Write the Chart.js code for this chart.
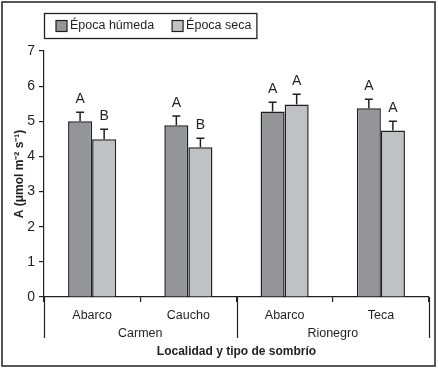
<!DOCTYPE html>
<html>
<head>
<meta charset="utf-8">
<script src="https://cdn.jsdelivr.net/npm/chart.js@4"></script>
<style>
html, body { margin: 0; padding: 0; background: #fff; }
#wrap { width: 438px; height: 369px; }
</style>
</head>
<body>
<div id="wrap"><canvas id="grafico"></canvas></div>
<script>
// datos
const sitios = ['Abarco', 'Caucho', 'Abarco', 'Teca'];
const localidades = ['Carmen', 'Rionegro'];
const humeda = [5.0, 4.89, 5.28, 5.37];
const humedaErr = [0.26, 0.26, 0.26, 0.26];
const seca = [4.49, 4.26, 5.48, 4.74];
const secaErr = [0.28, 0.26, 0.29, 0.26];
const letrasHumeda = ['A', 'A', 'A', 'A'];
const letrasSeca = ['B', 'B', 'A', 'A'];
const yMax = 7;

const negro = '#231f20';
const fuente = "'Liberation Sans', Arial, sans-serif";
const tam = 12.5;
Chart.defaults.font.family = fuente;
Chart.defaults.color = negro;

var extras = {
  id: 'extras',
  afterDatasetsDraw: function(chart) {
    const ctx = chart.ctx;
    const y = chart.scales.y;
    ctx.save();
    ctx.strokeStyle = negro;
    ctx.lineWidth = 1.5;
    ctx.fillStyle = negro;
    ctx.font = '14px ' + fuente;
    ctx.textAlign = 'center';
    ctx.textBaseline = 'alphabetic';
    chart.data.datasets.forEach(function(ds, i) {
      const meta = chart.getDatasetMeta(i);
      meta.data.forEach(function(bar, j) {
        const top = y.getPixelForValue(ds.data[j] + ds.errores[j]);
        ctx.beginPath();
        ctx.moveTo(bar.x, bar.y);
        ctx.lineTo(bar.x, top);
        ctx.moveTo(bar.x - 4, top);
        ctx.lineTo(bar.x + 4, top);
        ctx.stroke();
        ctx.fillText(ds.letras[j], bar.x, top - 9);
      });
    });
    ctx.restore();
  },
  afterDraw: function(chart) {
    const ctx = chart.ctx;
    const x = chart.scales.x;
    const area = chart.chartArea;
    ctx.save();
    ctx.strokeStyle = negro;
    ctx.fillStyle = negro;

    // separadores de localidad
    ctx.lineWidth = 1.2;
    const cortes = [x.left, (x.getPixelForValue(1) + x.getPixelForValue(2)) / 2, x.right];
    cortes.forEach(function(cx) {
      ctx.beginPath();
      ctx.moveTo(Math.round(cx) + 0.5, area.bottom);
      ctx.lineTo(Math.round(cx) + 0.5, area.bottom + 41);
      ctx.stroke();
    });
    ctx.font = tam + 'px ' + fuente;
    ctx.textAlign = 'center';
    ctx.textBaseline = 'middle';
    localidades.forEach(function(loc, k) {
      const cx = (x.getPixelForValue(2 * k) + x.getPixelForValue(2 * k + 1)) / 2;
      ctx.fillText(loc, cx, area.bottom + 37);
    });

    // leyenda con marco
    ctx.textAlign = 'left';
    let lx = area.left + 12;
    const ly = 26;
    chart.data.datasets.forEach(function(ds) {
      ctx.fillStyle = ds.backgroundColor;
      ctx.fillRect(lx, ly - 5.5, 11, 11);
      ctx.lineWidth = 1.2;
      ctx.strokeRect(lx, ly - 5.5, 11, 11);
      ctx.fillStyle = negro;
      ctx.fillText(ds.label, lx + 14, ly);
      lx += 14 + ctx.measureText(ds.label).width + 18;
    });
    ctx.lineWidth = 1.3;
    ctx.strokeRect(area.left + 0.5, 13.5, lx - 18 + 5 - area.left, 25);

    // marco exterior
    ctx.lineWidth = 1.5;
    ctx.strokeRect(2, 2, 433, 364);
    ctx.restore();
  }
};

new Chart(document.getElementById('grafico'), {
  type: 'bar',
  data: {
    labels: sitios,
    datasets: [{
      label: 'Época húmeda',
      data: humeda,
      errores: humedaErr,
      letras: letrasHumeda,
      backgroundColor: '#939598',
      borderColor: negro,
      borderWidth: 1.5
    }, {
      label: 'Época seca',
      data: seca,
      errores: secaErr,
      letras: letrasSeca,
      backgroundColor: '#c0c1c4',
      borderColor: negro,
      borderWidth: 1.5
    }]
  },
  options: {
    responsive: true,
    maintainAspectRatio: false,
    animation: false,
    datasets: { bar: { categoryPercentage: 0.5, barPercentage: 1.0 } },
    layout: { padding: { top: 51, left: 8, right: 9, bottom: 4 } },
    plugins: {
      legend: { display: false },
      tooltip: { enabled: false }
    },
    scales: {
      x: {
        afterFit: function(s) { s.height = 68; },
        grid: { display: true, drawOnChartArea: false, offset: true, tickLength: 5, color: negro, lineWidth: 1.2 },
        border: { color: negro, width: 1.2 },
        ticks: { font: { size: tam }, padding: 6, color: negro },
        title: {
          display: true,
          text: 'Localidad y tipo de sombrío',
          font: { size: 12, weight: 'bold' },
          padding: { top: 0, bottom: 6 },
          color: negro
        }
      },
      y: {
        min: 0,
        max: yMax,
        afterFit: function(s) { s.width = 36; },
        grid: { display: true, drawOnChartArea: false, tickLength: 5, color: negro, lineWidth: 1.2 },
        border: { color: negro, width: 1.2 },
        ticks: { stepSize: 1, font: { size: 14 }, padding: 4, color: negro },
        title: {
          display: true,
          text: 'A (μmol m⁻² s⁻¹)',
          font: { size: 12, weight: 'bold' },
          padding: { top: 4, bottom: 0 },
          color: negro
        }
      }
    }
  },
  plugins: [extras]
});
</script>
</body>
</html>
